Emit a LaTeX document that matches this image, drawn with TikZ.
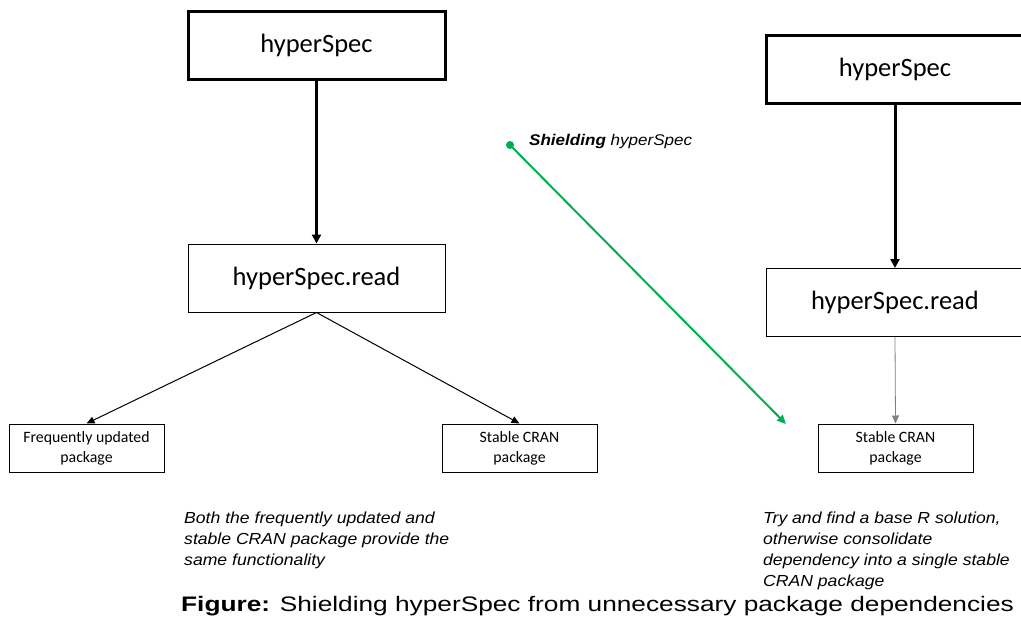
\documentclass[tikz,border=0pt]{standalone}
\usepackage{fontspec}
\setmainfont{Carlito}
\newfontfamily\arialf[FakeStretch=1.1]{Liberation Sans}
\newfontfamily\capf[FakeStretch=1.25]{Liberation Sans}
\usetikzlibrary{arrows.meta}
\definecolor{offgreen}{RGB}{0,176,80}
\begin{document}
\begin{tikzpicture}[x=1pt,y=-1pt,
  bigbox/.style={draw,rectangle,minimum width=257pt,minimum height=68pt,inner sep=0pt,font=\fontsize{26.5}{30}\selectfont},
  smallbox/.style={draw,rectangle,minimum width=155pt,minimum height=48pt,inner sep=0pt,align=center,font=\fontsize{15.8}{20}\selectfont},
  thickarr/.style={line width=3pt,-{Triangle[length=9pt,width=9pt]}},
  thinarr/.style={line width=1pt,-{Triangle[length=8pt,width=7pt]}},
  note/.style={anchor=north west,align=left,inner sep=0pt,font=\arialf\itshape\fontsize{16}{21}\selectfont}]
\useasboundingbox (0,0) rectangle (1021,619);
% left
\node[bigbox,line width=3pt] (hs1) at (316.5,45) {hyperSpec};
\node[bigbox,line width=1pt] (rd1) at (316.5,278) {hyperSpec.read};
\node[smallbox,line width=1pt] (fq) at (86.5,448) {Frequently updated\\package};
\node[smallbox,line width=1pt] (st1) at (519.5,448) {Stable CRAN\\package};
\draw[thickarr] (hs1.south) -- (rd1.north);
\draw[thinarr] (rd1.south) -- (fq.north);
\draw[thinarr] (rd1.south) -- (st1.north);
% right
\node[bigbox,line width=3pt] (hs2) at (895,69.5) {hyperSpec};
\node[bigbox,line width=1pt] (rd2) at (895,302.5) {hyperSpec.read};
\node[smallbox,line width=1pt] (st2) at (895.5,448) {Stable CRAN\\package};
\draw[thickarr] (hs2.south) -- (rd2.north);
\draw[line width=0.8pt,gray,-{Triangle[length=8pt,width=7pt]}] (rd2.south) -- (st2.north);
% green
\coordinate (gs) at (510,145);
\coordinate (ge) at (786,424);
\fill[offgreen] (gs) circle (4pt);
\draw[offgreen,line width=2pt,-{Triangle[length=9pt,width=8pt]}] (gs) -- (ge);
\node[anchor=base west,inner sep=0pt,font=\arialf\itshape\fontsize{15.5}{18}\selectfont] (sh) at (529,145) {\textbf{Shielding} hyperSpec};
% notes
\node[note] (n1) at (184,512) {Both the frequently updated and\\stable CRAN package provide the\\same functionality};
\node[note] (n2) at (763,512) {Try and find a base R solution,\\otherwise consolidate\\dependency into a single stable\\CRAN package};
\node[anchor=base west,inner sep=0pt,font=\capf\fontsize{21}{26}\selectfont] (cap) at (181,611.5) {\textbf{Figure:} Shielding hyperSpec from unnecessary package dependencies};
\end{tikzpicture}
\end{document}
